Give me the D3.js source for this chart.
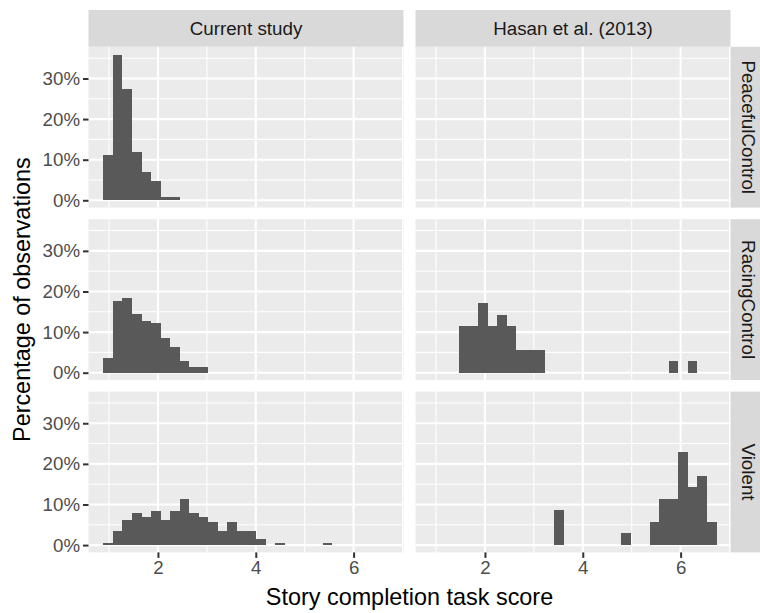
<!DOCTYPE html>
<html>
<head>
<meta charset="utf-8">
<script src="https://cdn.jsdelivr.net/npm/d3@7"></script>
<style>
  html, body { margin: 0; padding: 0; background: #fff; }
  svg { display: block; font-family: "Liberation Sans", Arial, sans-serif; }
</style>
</head>
<body>
<svg id="chart" width="760" height="613"></svg>
<script>
// ======== data (percent of observations per histogram bin, 30 bins)
const studies = ["Current study", "Hasan et al. (2013)"];
const conditions = ["PeacefulControl", "RacingControl", "Violent"];

const binStart = 0.885;
const binWidth = 0.195;

const currentPeaceful = [11.1, 35.8, 27.3, 11.8, 6.9, 4.8, 0.7, 0.7, 0, 0, 0, 0, 0, 0, 0, 0, 0, 0, 0, 0, 0, 0, 0, 0, 0, 0, 0, 0, 0, 0];
const currentRacing   = [3.5, 17.7, 18.5, 14.4, 12.7, 12.2, 8.5, 6.3, 2.9, 1.3, 1.3, 0, 0, 0, 0, 0, 0, 0, 0, 0, 0, 0, 0, 0, 0, 0, 0, 0, 0, 0];
const currentViolent  = [0.6, 3.5, 6.3, 8.0, 7.0, 8.5, 6.3, 8.5, 11.3, 8.0, 7.0, 5.7, 3.5, 5.7, 3.5, 3.5, 1.4, 0, 0.6, 0, 0, 0, 0, 0.6, 0, 0, 0, 0, 0, 0];
const hasanPeaceful   = [0, 0, 0, 0, 0, 0, 0, 0, 0, 0, 0, 0, 0, 0, 0, 0, 0, 0, 0, 0, 0, 0, 0, 0, 0, 0, 0, 0, 0, 0];
const hasanRacing     = [0, 0, 0, 11.4, 11.4, 17.1, 11.4, 14.3, 11.4, 5.7, 5.7, 5.7, 0, 0, 0, 0, 0, 0, 0, 0, 0, 0, 0, 0, 0, 2.9, 0, 2.9, 0, 0];
const hasanViolent    = [0, 0, 0, 0, 0, 0, 0, 0, 0, 0, 0, 0, 0, 8.6, 0, 0, 0, 0, 0, 0, 2.9, 0, 0, 5.7, 11.4, 11.4, 22.9, 14.3, 17.1, 5.7];

const xTicks = [2, 4, 6];
const xMinor = [1, 3, 5, 7];
const yTicks = [0, 0.1, 0.2, 0.3];
const yMinor = [0.05, 0.15, 0.25, 0.35];

const xTitle = "Story completion task score";
const yTitle = "Percentage of observations";

// rows = conditions, cols = studies
const panelData = [
  [currentPeaceful, hasanPeaceful],
  [currentRacing, hasanRacing],
  [currentViolent, hasanViolent]
];
// ======== data 끝

const svg = d3.select("#chart");

const panelLeft = 88.5;
const panelTop = 46.8;
const panelW = 315;
const panelH = 160.8;
const gapX = 12;
const gapY = 11.6;
const stripH = 36.8;

const x = d3.scaleLinear().domain([0.58, 7.02]).range([0, panelW]);
const y = d3.scaleLinear().domain([-0.018, 0.378]).range([panelH, 0]);

const fmt = d3.format(".0%");

// column strips
studies.forEach((s, j) => {
  const gx = panelLeft + j * (panelW + gapX);
  const g = svg.append("g").attr("transform", `translate(${gx},${panelTop - stripH})`);
  g.append("rect").attr("width", panelW).attr("height", stripH).attr("fill", "#D9D9D9");
  g.append("text")
    .attr("x", panelW / 2).attr("y", stripH / 2)
    .attr("dy", "0.35em")
    .attr("text-anchor", "middle")
    .attr("font-size", 18.8)
    .attr("fill", "#1A1A1A")
    .text(s);
});

conditions.forEach((c, i) => {
  const gy = panelTop + i * (panelH + gapY);

  // row strip
  const sx = panelLeft + 2 * panelW + gapX;
  const sg = svg.append("g").attr("transform", `translate(${sx},${gy})`);
  sg.append("rect").attr("width", stripH).attr("height", panelH).attr("fill", "#D9D9D9");
  sg.append("text")
    .attr("transform", `translate(${stripH / 2},${panelH / 2}) rotate(90)`)
    .attr("dy", "0.35em")
    .attr("text-anchor", "middle")
    .attr("font-size", 18.8)
    .attr("fill", "#1A1A1A")
    .text(c);

  studies.forEach((s, j) => {
    const gx = panelLeft + j * (panelW + gapX);
    const g = svg.append("g").attr("transform", `translate(${gx},${gy})`);

    g.append("rect").attr("width", panelW).attr("height", panelH).attr("fill", "#EBEBEB");

    // minor grid
    g.append("g").selectAll("line").data(yMinor).join("line")
      .attr("x1", 0).attr("x2", panelW)
      .attr("y1", d => y(d)).attr("y2", d => y(d))
      .attr("stroke", "#fff").attr("stroke-width", 1.05);
    g.append("g").selectAll("line").data(xMinor.filter(d => x(d) <= panelW)).join("line")
      .attr("y1", 0).attr("y2", panelH)
      .attr("x1", d => x(d)).attr("x2", d => x(d))
      .attr("stroke", "#fff").attr("stroke-width", 1.05);
    // major grid
    g.append("g").selectAll("line").data(yTicks).join("line")
      .attr("x1", 0).attr("x2", panelW)
      .attr("y1", d => y(d)).attr("y2", d => y(d))
      .attr("stroke", "#fff").attr("stroke-width", 2.1);
    g.append("g").selectAll("line").data(xTicks).join("line")
      .attr("y1", 0).attr("y2", panelH)
      .attr("x1", d => x(d)).attr("x2", d => x(d))
      .attr("stroke", "#fff").attr("stroke-width", 2.1);

    // histogram bars
    const vals = panelData[i][j];
    const bins = vals.map((v, k) => ({
      x0: binStart + k * binWidth,
      x1: binStart + (k + 1) * binWidth,
      p: v / 100
    })).filter(d => d.p > 0);

    g.append("g").selectAll("rect").data(bins).join("rect")
      .attr("x", d => x(d.x0))
      .attr("width", d => x(d.x1) - x(d.x0))
      .attr("y", d => y(d.p))
      .attr("height", d => y(0) - y(d.p))
      .attr("fill", "#595959")
      .attr("shape-rendering", "crispEdges");

    // y axis on left column
    if (j === 0) {
      const ya = g.append("g")
        .call(d3.axisLeft(y).tickValues(yTicks).tickFormat(fmt).tickSize(5.5).tickPadding(3));
      ya.select(".domain").remove();
      ya.selectAll(".tick line").attr("stroke", "#333333").attr("stroke-width", 2);
      ya.selectAll(".tick text")
        .attr("fill", "#4D4D4D")
        .attr("font-size", 18.7)
        .attr("font-family", "Liberation Sans, Arial, sans-serif");
    }

    // x axis on bottom row
    if (i === conditions.length - 1) {
      const xa = g.append("g")
        .attr("transform", `translate(0,${panelH})`)
        .call(d3.axisBottom(x).tickValues(xTicks).tickFormat(d3.format("d")).tickSize(5.5).tickPadding(3));
      xa.select(".domain").remove();
      xa.selectAll(".tick line").attr("stroke", "#333333").attr("stroke-width", 2);
      xa.selectAll(".tick text")
        .attr("fill", "#4D4D4D")
        .attr("font-size", 18.7)
        .attr("font-family", "Liberation Sans, Arial, sans-serif");
    }
  });
});

// axis titles
const plotBottom = panelTop + 3 * panelH + 2 * gapY;
svg.append("text")
  .attr("x", panelLeft + panelW + gapX / 2)
  .attr("y", 605)
  .attr("text-anchor", "middle")
  .attr("font-size", 23.4)
  .attr("fill", "#000")
  .text(xTitle);

svg.append("text")
  .attr("transform", `translate(30,${(panelTop + plotBottom) / 2}) rotate(-90)`)
  .attr("text-anchor", "middle")
  .attr("font-size", 23.4)
  .attr("fill", "#000")
  .text(yTitle);
</script>
</body>
</html>
